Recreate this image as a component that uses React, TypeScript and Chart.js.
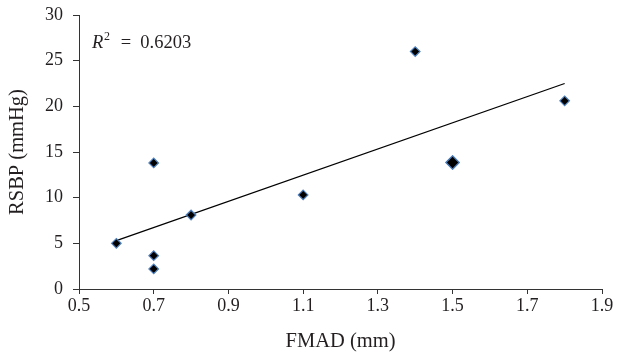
import React, { useEffect, useRef } from "react";
import { Chart, registerables } from "chart.js";

Chart.register(...registerables);

const fmadX = [0.6, 0.7, 0.7, 0.7, 0.8, 1.1, 1.4, 1.5, 1.5, 1.8];
const rsbpY = [5.0, 13.8, 3.65, 2.2, 8.1, 10.3, 26.0, 13.85, 13.85, 20.6];
const trendX = [0.6, 1.8];
const trendY = [5.3, 22.5];
const rSquared = "0.6203";

const FONT = "'Liberation Serif', 'Times New Roman', serif";
const TEXT = "#231f20";

const r2Plugin = {
  id: "r2label",
  afterDraw(chart: any) {
    const ctx = chart.ctx;
    const xs = chart.scales.x;
    const ys = chart.scales.y;
    const px = xs.getPixelForValue(0.535);
    const py = ys.getPixelForValue(27.0);
    ctx.save();
    ctx.fillStyle = TEXT;
    ctx.textBaseline = "alphabetic";
    ctx.textAlign = "left";
    ctx.font = `italic 18.5px ${FONT}`;
    ctx.fillText("R", px, py + 6);
    const w = ctx.measureText("R").width;
    ctx.font = `12px ${FONT}`;
    ctx.fillText("2", px + w + 0.5, py - 2);
    const w2 = ctx.measureText("2").width;
    ctx.font = `18.5px ${FONT}`;
    ctx.fillText("\u2002=\u2002" + rSquared, px + w + w2 + 2, py + 6);
    ctx.restore();
  },
};

export default function App() {
  const ref = useRef<HTMLCanvasElement>(null);
  useEffect(() => {
    document.body.style.margin = "0";
    const points = fmadX.map((x, i) => ({ x, y: rsbpY[i] }));
    const trend = trendX.map((x, i) => ({ x, y: trendY[i] }));
    const overlapCount = (i: number) =>
      points.filter((p) => p.x === points[i].x && p.y === points[i].y).length;
    const chart = new Chart(ref.current!, {
      type: "scatter",
      data: {
        datasets: [
          {
            label: "trend",
            data: trend,
            showLine: true,
            borderColor: "#000",
            borderWidth: 1.3,
            pointRadius: 0,
            order: 2,
          } as any,
          {
            label: "RSBP",
            data: points,
            pointStyle: "rectRot",
            pointRadius: (c: any) => (overlapCount(c.dataIndex) > 1 ? 6.6 : 4.8),
            backgroundColor: "#000",
            borderColor: "#4f81bd",
            borderWidth: 1.2,
            order: 1,
          } as any,
        ],
      },
      options: {
        animation: false,
        responsive: false,
        maintainAspectRatio: false,
        layout: { autoPadding: false, padding: { top: 15, right: 15, left: 0, bottom: 0 } },
        plugins: { legend: { display: false }, tooltip: { enabled: false } },
        scales: {
          x: {
            type: "linear",
            min: 0.5,
            max: 1.9,
            ticks: {
              stepSize: 0.2,
              color: TEXT,
              font: { family: FONT, size: 18 },
              padding: 1,
              callback: (v: any) => Number(v).toFixed(1),
            },
            grid: { drawOnChartArea: false, drawTicks: true, tickLength: 5, color: "#333" },
            border: { display: true, color: "#333", width: 1 },
            title: {
              display: true,
              text: "FMAD (mm)",
              color: TEXT,
              font: { family: FONT, size: 20.5 },
              padding: { top: 4, bottom: 1 },
            },
            afterFit: (s: any) => {
              s.height = 66;
              s.paddingLeft = 0;
              s.paddingRight = 0;
            },
          },
          y: {
            type: "linear",
            min: 0,
            max: 30,
            ticks: {
              stepSize: 5,
              color: TEXT,
              font: { family: FONT, size: 18 },
              padding: 10,
            },
            grid: { drawOnChartArea: false, drawTicks: true, tickLength: 6, color: "#333" },
            border: { display: true, color: "#333", width: 1 },
            title: {
              display: true,
              text: "RSBP (mmHg)",
              color: TEXT,
              font: { family: FONT, size: 20.5 },
              padding: { top: 5, bottom: 6 },
            },
            afterFit: (s: any) => {
              s.width = 79;
              s.paddingTop = 0;
              s.paddingBottom = 0;
            },
          },
        },
      },
      plugins: [r2Plugin],
    });
    return () => chart.destroy();
  }, []);
  return (
    <div style={{ width: 617, height: 355, background: "#fff" }}>
      <canvas ref={ref} width={617} height={355} />
    </div>
  );
}
